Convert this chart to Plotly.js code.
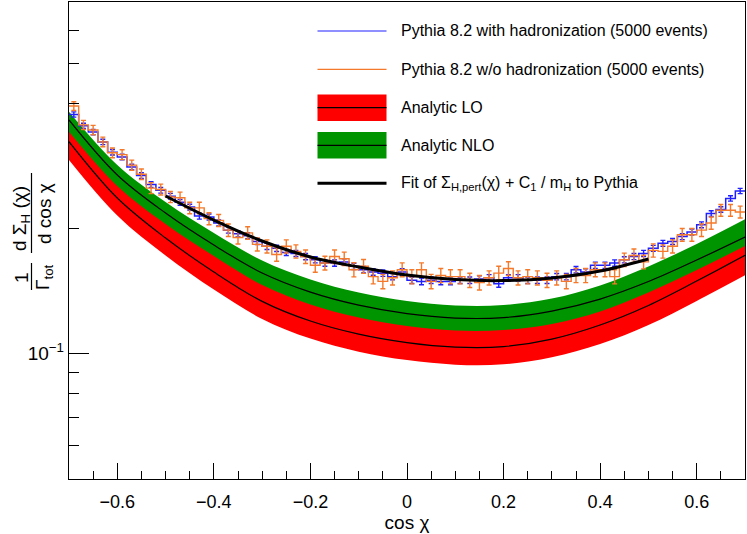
<!DOCTYPE html>
<html><head><meta charset="utf-8">
<script src="https://cdn.plot.ly/plotly-3.0.1.min.js"></script>
<style>html,body{margin:0;padding:0;background:#fff;}#chart{width:747px;height:534px;}</style>
</head><body><div id="chart"></div>
<script>
// ---------------- data ----------------
const binLow = -0.7;
const binWidth = 0.02;
const withHad = [
 0.376,0.353,0.341,0.323,0.305,0.297,0.281,0.268,0.255,0.247,
 0.239,0.231,0.225,0.214,0.213,0.206,0.198,0.194,0.192,0.186,
 0.181,0.179,0.175,0.174,0.171,0.168,0.165,0.165,0.166,0.162,
 0.159,0.157,0.156,0.153,0.157,0.150,0.149,0.150,0.149,0.149,
 0.150,0.150,0.151,0.152,0.147,0.152,0.152,0.150,0.150,0.150,
 0.153,0.153,0.159,0.157,0.163,0.163,0.165,0.168,0.171,0.174,
 0.179,0.184,0.186,0.191,0.196,0.204,0.217,0.222,0.236,0.246];
const withoutHad = [
 0.394,0.355,0.345,0.323,0.304,0.301,0.284,0.270,0.250,0.248,
 0.238,0.237,0.224,0.224,0.211,0.209,0.198,0.190,0.195,0.183,
 0.181,0.173,0.181,0.176,0.171,0.163,0.165,0.171,0.169,0.159,
 0.162,0.153,0.149,0.152,0.159,0.153,0.159,0.149,0.154,0.153,
 0.153,0.150,0.148,0.152,0.156,0.160,0.152,0.153,0.152,0.150,
 0.152,0.149,0.154,0.154,0.159,0.159,0.153,0.168,0.172,0.166,
 0.177,0.176,0.181,0.193,0.193,0.198,0.206,0.221,0.221,0.219];
const errWithHad = [
 0.0055,0.0052,0.0050,0.0048,0.0046,0.0045,0.0043,0.0042,0.0040,0.0039,
 0.0038,0.0037,0.0036,0.0035,0.0035,0.0034,0.0033,0.0033,0.0032,0.0032,
 0.0031,0.0031,0.0030,0.0030,0.0030,0.0029,0.0029,0.0029,0.0029,0.0028,
 0.0028,0.0028,0.0028,0.0027,0.0028,0.0027,0.0027,0.0027,0.0027,0.0027,
 0.0027,0.0027,0.0027,0.0027,0.0027,0.0027,0.0027,0.0027,0.0027,0.0027,
 0.0027,0.0027,0.0028,0.0028,0.0028,0.0028,0.0029,0.0029,0.0029,0.0030,
 0.0030,0.0031,0.0031,0.0032,0.0032,0.0033,0.0034,0.0034,0.0035,0.0036];
const errWithoutHad = [
 0.0095,0.0090,0.0089,0.0086,0.0083,0.0083,0.0080,0.0079,0.0076,0.0075,
 0.0074,0.0074,0.0072,0.0072,0.0070,0.0070,0.0068,0.0067,0.0068,0.0066,
 0.0066,0.0064,0.0066,0.0065,0.0064,0.0062,0.0063,0.0064,0.0063,0.0062,
 0.0062,0.0060,0.0059,0.0060,0.0061,0.0060,0.0061,0.0059,0.0060,0.0060,
 0.0060,0.0059,0.0059,0.0060,0.0060,0.0061,0.0060,0.0060,0.0060,0.0059,
 0.0060,0.0059,0.0060,0.0060,0.0061,0.0061,0.0060,0.0063,0.0064,0.0063,
 0.0065,0.0065,0.0066,0.0068,0.0068,0.0069,0.0070,0.0072,0.0072,0.0072];

const bandX      = [-0.7,-0.6,-0.5,-0.4,-0.3,-0.2,-0.1,0.0,0.1,0.2,0.3,0.4,0.5,0.6,0.7];
const nloUpper   = [0.3818,0.2841,0.2314,0.1949,0.1673,0.1506,0.1401,0.1337,0.1304,0.1307,0.1355,0.1457,0.1619,0.1833,0.2102];
const nloCentral = [0.3647,0.2688,0.2177,0.1823,0.1561,0.1404,0.1306,0.1246,0.1216,0.1219,0.1264,0.1351,0.1489,0.1678,0.1906];
const nloLower   = [0.3418,0.2529,0.2048,0.1715,0.1460,0.1311,0.1220,0.1163,0.1135,0.1138,0.1176,0.1261,0.1401,0.1587,0.1813];
const loUpper    = [0.3578,0.2607,0.2089,0.1730,0.1469,0.1317,0.1226,0.1169,0.1140,0.1145,0.1196,0.1300,0.1452,0.1669,0.1924];
const loCentral  = [0.3234,0.2366,0.1895,0.1570,0.1334,0.1196,0.1112,0.1061,0.1035,0.1038,0.1082,0.1170,0.1304,0.1493,0.1722];
const loLower    = [0.2922,0.2147,0.1720,0.1424,0.1210,0.1085,0.1009,0.0963,0.0939,0.0941,0.0979,0.1053,0.1170,0.1337,0.1541];

const fitX = [-0.5,-0.4,-0.3,-0.2,-0.1,0.0,0.1,0.2,0.3,0.4,0.5];
const fitY = [0.2393,0.2094,0.1864,0.1706,0.1614,0.1544,0.1506,0.1497,0.1519,0.1578,0.1687];

const xTickVals = [-0.6,-0.4,-0.2,0,0.2,0.4,0.6];
const xTickText = ['\u22120.6','\u22120.4','\u22120.2','0','0.2','0.4','0.6'];
const xMinorVals = [-0.65,-0.55,-0.5,-0.45,-0.35,-0.3,-0.25,-0.15,-0.1,-0.05,0.05,0.1,0.15,0.25,0.3,0.35,0.45,0.5,0.55,0.65];
const yTickVals = [0.1];
const yTickText = ['10<sup>\u22121</sup>'];
const yMinorVals = [0.06,0.07,0.08,0.09,0.2,0.4,0.5,0.6];

const legendLabels = [
 'Pythia 8.2 with hadronization (5000 events)',
 'Pythia 8.2 w/o hadronization (5000 events)',
 'Analytic LO',
 'Analytic NLO',
 'Fit of \u03A3<sub>H,pert</sub>(\u03C7) + C<sub>1</sub> / m<sub>H</sub> to Pythia'];

// ---------------- styles ----------------
const BLUE = '#2020ff', ORANGE = '#f5792a', RED = '#ff0000', GREEN = '#009400';

const nb = withHad.length;
const edges = [], centers = [];
for (let i = 0; i <= nb; i++) edges.push(+(binLow + i*binWidth).toFixed(4));
for (let i = 0; i < nb; i++) centers.push(+(binLow + (i+0.5)*binWidth).toFixed(4));
const stepY = a => a.concat([a[a.length-1]]);

const traces = [
 {x: bandX, y: loLower, mode:'lines', line:{width:0, shape:'spline'}, hoverinfo:'skip'},
 {x: bandX, y: loUpper, mode:'lines', line:{width:0, shape:'spline'}, fill:'tonexty', fillcolor:RED, hoverinfo:'skip'},
 {x: bandX, y: nloLower, mode:'lines', line:{width:0, shape:'spline'}, hoverinfo:'skip'},
 {x: bandX, y: nloUpper, mode:'lines', line:{width:0, shape:'spline'}, fill:'tonexty', fillcolor:GREEN, hoverinfo:'skip'},
 {x: bandX, y: loCentral, mode:'lines', line:{width:1.2, color:'#000', shape:'spline'}},
 {x: bandX, y: nloCentral, mode:'lines', line:{width:1.2, color:'#000', shape:'spline'}},
 {x: edges, y: stepY(withHad), mode:'lines', line:{width:1.5, color:BLUE, shape:'hv'}},
 {x: centers, y: withHad, mode:'markers', marker:{size:1, color:BLUE, opacity:0},
  error_y:{type:'data', array: errWithHad, color:BLUE, thickness:1.4, width:2.5}},
 {x: edges, y: stepY(withoutHad), mode:'lines', line:{width:1.4, color:ORANGE, shape:'hv'}},
 {x: centers, y: withoutHad, mode:'markers', marker:{size:1, color:ORANGE, opacity:0},
  error_y:{type:'data', array: errWithoutHad, color:ORANGE, thickness:1.4, width:2.5}},
 {x: fitX, y: fitY, mode:'lines', line:{width:3, color:'#000', shape:'spline'}}
];

// ---------------- layout helpers (pixel -> paper) ----------------
const W = 747, H = 534, ML = 69, MR = 2, MT = 2, MB = 55;
const PW = W - ML - MR, PH = H - MT - MB;
const PX = p => (p - ML) / PW;
const PY = p => (H - MB - p) / PH;

const legY = [31, 69.3, 107.7, 145.3, 183.3];
const legX0 = 317.5, legX1 = 386.5, legTextX = 398.5;

const shapes = [
 {type:'line', xref:'paper', yref:'paper', x0:PX(legX0), x1:PX(legX1), y0:PY(legY[0]), y1:PY(legY[0]), line:{color:BLUE, width:1.2}},
 {type:'line', xref:'paper', yref:'paper', x0:PX(legX0), x1:PX(legX1), y0:PY(legY[1]), y1:PY(legY[1]), line:{color:ORANGE, width:1.2}},
 {type:'rect', xref:'paper', yref:'paper', x0:PX(legX0), x1:PX(legX1), y0:PY(legY[2]-13.2), y1:PY(legY[2]+13.2), fillcolor:RED, line:{width:0}},
 {type:'line', xref:'paper', yref:'paper', x0:PX(legX0), x1:PX(legX1), y0:PY(legY[2]), y1:PY(legY[2]), line:{color:'#000', width:1.2}},
 {type:'rect', xref:'paper', yref:'paper', x0:PX(legX0), x1:PX(legX1), y0:PY(legY[3]-13.2), y1:PY(legY[3]+13.2), fillcolor:GREEN, line:{width:0}},
 {type:'line', xref:'paper', yref:'paper', x0:PX(legX0), x1:PX(legX1), y0:PY(legY[3]), y1:PY(legY[3]), line:{color:'#000', width:1.2}},
 {type:'line', xref:'paper', yref:'paper', x0:PX(legX0), x1:PX(legX1), y0:PY(legY[4]), y1:PY(legY[4]), line:{color:'#000', width:3}},
 // y-title fraction bars
 {type:'line', xref:'paper', yref:'paper', x0:PX(31.5), x1:PX(31.5), y0:PY(263), y1:PY(290), line:{color:'#000', width:1.2}},
 {type:'line', xref:'paper', yref:'paper', x0:PX(31.5), x1:PX(31.5), y0:PY(173), y1:PY(253), line:{color:'#000', width:1.2}}
];

const FONT = 'Liberation Sans, Arial, Helvetica, sans-serif';
const annotations = legendLabels.map((t, i) => ({
 xref:'paper', yref:'paper', x:PX(legTextX), y:PY(legY[i]), xanchor:'left', yanchor:'middle',
 text:t, showarrow:false, font:{family:FONT, size:16, color:'#000'}
}));
const yTitleParts = [
 {text:'1', x:21, y:278},
 {text:'\u0393<sub>tot</sub>', x:44, y:277},
 {text:'d \u03A3<sub>H</sub> (\u03C7)', x:21, y:219},
 {text:'d cos \u03C7', x:44, y:214}
];
yTitleParts.forEach(p => annotations.push({
 xref:'paper', yref:'paper', x:PX(p.x), y:PY(p.y), xanchor:'center', yanchor:'middle',
 text:p.text, textangle:-90, showarrow:false, font:{family:FONT, size:19, color:'#000'}
}));

const layout = {
 width:W, height:H, margin:{l:ML, r:MR, t:MT, b:MB},
 paper_bgcolor:'#fff', plot_bgcolor:'#fff', showlegend:false,
 font:{family:FONT, color:'#000', size:18},
 xaxis:{range:[-0.7,0.7], tickmode:'array', tickvals:xTickVals, ticktext:xTickText,
  ticks:'inside', ticklen:16, tickwidth:1, tickcolor:'#000', ticklabelstandoff:6,
  minor:{tickmode:'array', tickvals:xMinorVals, ticks:'inside', ticklen:8, tickwidth:1, tickcolor:'#000'},
  showgrid:false, zeroline:false, showline:true, linecolor:'#000', linewidth:1.2, mirror:true,
  tickfont:{family:FONT, size:18}, automargin:false,
  title:{text:'cos \u03C7', font:{family:FONT, size:19}, standoff:0}},
 yaxis:{type:'log', range:[-1.3027,-0.1539], tickmode:'array', tickvals:yTickVals, ticktext:yTickText,
  ticks:'inside', ticklen:20, tickwidth:1, tickcolor:'#000',
  minor:{tickmode:'array', tickvals:yMinorVals, ticks:'inside', ticklen:10, tickwidth:1, tickcolor:'#000'},
  showgrid:false, zeroline:false, showline:true, linecolor:'#000', linewidth:1.2, mirror:true,
  tickfont:{family:FONT, size:19}, automargin:false},
 shapes:shapes, annotations:annotations
};

Plotly.newPlot('chart', traces, layout, {staticPlot:true, displayModeBar:false});
</script></body></html>
